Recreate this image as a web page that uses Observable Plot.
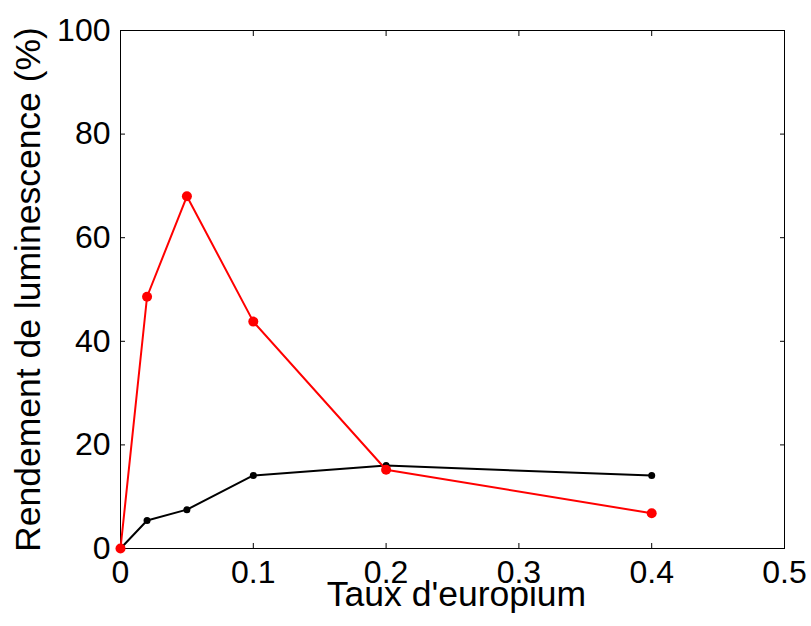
<!DOCTYPE html>
<html>
<head>
<meta charset="utf-8">
<script src="https://cdn.jsdelivr.net/npm/d3@7"></script>
<script src="https://cdn.jsdelivr.net/npm/@observablehq/plot@0.6"></script>
<style>
  html, body { margin: 0; padding: 0; background: #fff; }
</style>
</head>
<body>
<div id="chart"></div>
<script>
const taux = [0, 0.02, 0.05, 0.1, 0.2, 0.4];
const rendementRouge = [0, 48.6, 68.0, 43.8, 15.2, 6.8];
const rendementNoir = [0, 5.4, 7.5, 14.1, 16.0, 14.1];
const xTicks = [0, 0.1, 0.2, 0.3, 0.4, 0.5];
const yTicks = [0, 20, 40, 60, 80, 100];
const xLabel = "Taux d'europium";
const yLabel = "Rendement de luminescence (%)";

const rouge = taux.map((t, i) => ({taux: t, rendement: rendementRouge[i]}));
const noir = taux.map((t, i) => ({taux: t, rendement: rendementNoir[i]}));

const fs = 32;
const fsTitle = 35.5;
const noText = () => "";

const plot = Plot.plot({
  width: 811,
  height: 626,
  marginLeft: 120,
  marginRight: 27,
  marginTop: 30,
  marginBottom: 78,
  style: {fontFamily: "'Liberation Sans', Arial, sans-serif", background: "#fff", color: "#000"},
  x: {domain: [0, 0.5]},
  y: {domain: [0, 100]},
  marks: [
    Plot.frame({stroke: "#000", strokeWidth: 1}),
    // inward ticks on all four sides
    Plot.axisX({ticks: xTicks, anchor: "bottom", tickSize: 5, dy: -5, tickFormat: noText, label: null}),
    Plot.axisX({ticks: xTicks, anchor: "top", tickSize: 5, dy: 5, tickFormat: noText, label: null}),
    Plot.axisY({ticks: yTicks, anchor: "left", tickSize: 5, dx: 5, tickFormat: noText, label: null}),
    Plot.axisY({ticks: yTicks, anchor: "right", tickSize: 5, dx: -5, tickFormat: noText, label: null}),
    // tick labels
    Plot.axisX({ticks: xTicks, anchor: "bottom", tickSize: 0, tickPadding: 12, fontSize: fs, tickFormat: d => String(d), label: null}),
    Plot.axisY({ticks: yTicks, anchor: "left", tickSize: 0, tickPadding: 10, fontSize: fs, tickFormat: d => String(d), label: null}),
    // axis titles
    Plot.text([xLabel], {frameAnchor: "bottom", textAnchor: "middle", text: d => d, lineAnchor: "bottom", dx: 4, dy: 57, fontSize: fsTitle, fill: "#000"}),
    Plot.text([yLabel], {frameAnchor: "left", textAnchor: "middle", text: d => d, rotate: -90, lineAnchor: "bottom", dx: -81, fontSize: fsTitle, fill: "#000"}),
    // series
    Plot.line(noir, {x: "taux", y: "rendement", stroke: "#000", strokeWidth: 2}),
    Plot.dot(noir, {x: "taux", y: "rendement", r: 3.5, fill: "#000", stroke: "none"}),
    Plot.line(rouge, {x: "taux", y: "rendement", stroke: "#ff0000", strokeWidth: 2}),
    Plot.dot(rouge, {x: "taux", y: "rendement", r: 5, fill: "#ff0000", stroke: "none"})
  ]
});
document.getElementById("chart").append(plot);
</script>
</body>
</html>
